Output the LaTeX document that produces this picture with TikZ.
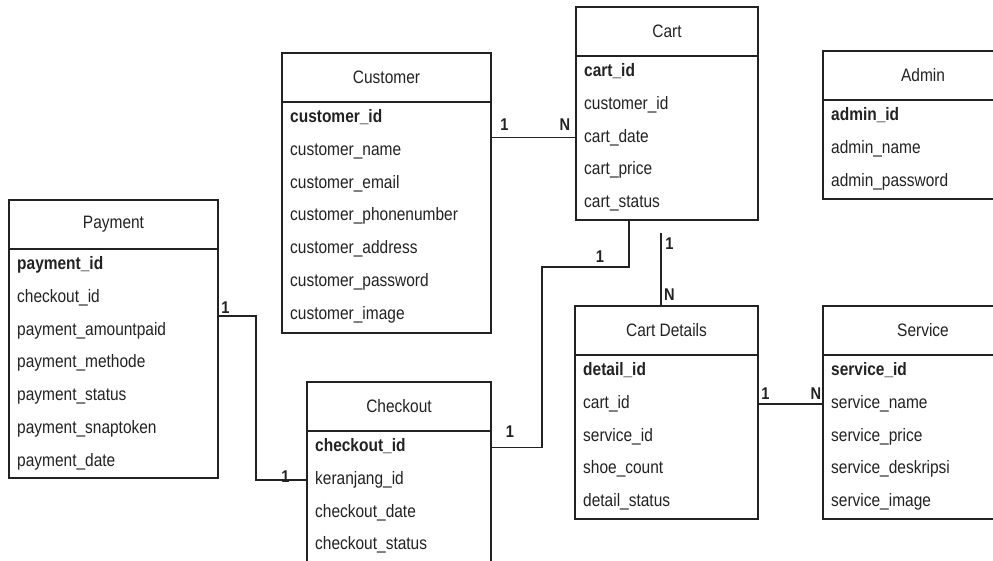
\documentclass[tikz,border=0pt]{standalone}
\usepackage{fontspec}
\setmainfont{Liberation Sans}[FakeStretch=0.86]
\usetikzlibrary{calc}
\definecolor{inkgray}{RGB}{34,34,34}

\begin{document}
\begin{tikzpicture}[x=1pt,y=-1pt,
  head/.style={draw=inkgray,line width=1.3pt,anchor=north west,inner sep=0pt,outer sep=0pt,
    minimum height=49pt,font=\fontsize{18}{20}\selectfont,text=inkgray},
  tbody/.style={draw=inkgray,line width=1.3pt,anchor=north west,inner sep=0pt,outer sep=0pt},
  field/.style={anchor=west,inner sep=0pt,font=\fontsize{18}{20}\selectfont,
    text=inkgray,text height=13pt,text depth=4pt},
  card/.style={font=\bfseries\fontsize{17}{19}\selectfont,text=inkgray,inner sep=0pt},
  link/.style={draw=inkgray,line width=1.3pt}]
  \useasboundingbox (0,0) rectangle (993,560);
  \clip (0,0) rectangle (993,560);

  % Customer
  \node[head,minimum width=209pt] (customer) at (282,53) {Customer};
  \node[tbody,minimum width=209pt,minimum height=231pt] (customer-body) at (customer.south west) {};
  \foreach \f [count=\i] in {\textbf{customer\_id},customer\_name,customer\_email,
      customer\_phonenumber,customer\_address,customer\_password,customer\_image}
    \node[field] (customer-\i) at ($(customer-body.north west)+(8,{16.3+32.7*(\i-1)})$) {\f};

  % Cart
  \node[head,minimum width=182pt] (cart) at (576,7) {Cart};
  \node[tbody,minimum width=182pt,minimum height=164pt] (cart-body) at (cart.south west) {};
  \foreach \f [count=\i] in {\textbf{cart\_id},customer\_id,cart\_date,cart\_price,cart\_status}
    \node[field] (cart-\i) at ($(cart-body.north west)+(8,{16.3+32.7*(\i-1)})$) {\f};

  % Admin
  \node[head,minimum width=200pt] (admin) at (823,51) {Admin};
  \node[tbody,minimum width=200pt,minimum height=99pt] (admin-body) at (admin.south west) {};
  \foreach \f [count=\i] in {\textbf{admin\_id},admin\_name,admin\_password}
    \node[field] (admin-\i) at ($(admin-body.north west)+(8,{16.3+32.7*(\i-1)})$) {\f};

  % Payment
  \node[head,minimum width=209pt] (payment) at (9,200) {Payment};
  \node[tbody,minimum width=209pt,minimum height=229pt] (payment-body) at (payment.south west) {};
  \foreach \f [count=\i] in {\textbf{payment\_id},checkout\_id,payment\_amountpaid,
      payment\_methode,payment\_status,payment\_snaptoken,payment\_date}
    \node[field] (payment-\i) at ($(payment-body.north west)+(8,{16.3+32.7*(\i-1)})$) {\f};

  % Checkout
  \node[head,minimum width=184pt] (checkout) at (307,382) {Checkout};
  \node[tbody,minimum width=184pt,minimum height=160pt] (checkout-body) at (checkout.south west) {};
  \foreach \f [count=\i] in {\textbf{checkout\_id},keranjang\_id,checkout\_date,checkout\_status}
    \node[field] (checkout-\i) at ($(checkout-body.north west)+(8,{16.3+32.7*(\i-1)})$) {\f};

  % Cart Details
  \node[head,minimum width=183pt] (details) at (575,306) {Cart Details};
  \node[tbody,minimum width=183pt,minimum height=164pt] (details-body) at (details.south west) {};
  \foreach \f [count=\i] in {\textbf{detail\_id},cart\_id,service\_id,shoe\_count,detail\_status}
    \node[field] (details-\i) at ($(details-body.north west)+(8,{16.3+32.7*(\i-1)})$) {\f};

  % Service
  \node[head,minimum width=200pt] (service) at (823,306) {Service};
  \node[tbody,minimum width=200pt,minimum height=164pt] (service-body) at (service.south west) {};
  \foreach \f [count=\i] in {\textbf{service\_id},service\_name,service\_price,
      service\_deskripsi,service\_image}
    \node[field] (service-\i) at ($(service-body.north west)+(8,{16.3+32.7*(\i-1)})$) {\f};

  % relations
  \coordinate (cd-top) at (661,233);
  \coordinate (bend) at (542,267);
  \coordinate (pbend) at (256,316);

  \draw[link] (customer-body.east |- cart-3) -- (cart-body.west |- cart-3);
  \node[card] (cc-1) at (504.5,125) {1};
  \node[card] (cc-n) at (565,125) {N};

  \draw[link] (cd-top) -- (cd-top |- details.north);
  \node[card] (cd-1) at (669.5,244) {1};
  \node[card] (cd-n) at (669.5,295) {N};

  \draw[link] ($(cart-body.south west)+(53,0)$) |- (bend) -- (bend |- checkout-1)
    -- (checkout-body.east |- checkout-1);
  \node[card] (ck-1) at (600,257) {1};
  \node[card] (ck-2) at (510,432) {1};

  \draw[link] (details-body.east |- service-2) -- (service-body.west |- service-2);
  \node[card] (ds-1) at (765.5,394) {1};
  \node[card] (ds-n) at (816,394) {N};

  \draw[link] (payment-body.east |- pbend) -- (pbend) |- (checkout-body.west |- checkout-2);
  \node[card] (pc-1) at (225.5,308) {1};
  \node[card] (pc-2) at (285.5,477) {1};
\end{tikzpicture}
\end{document}
